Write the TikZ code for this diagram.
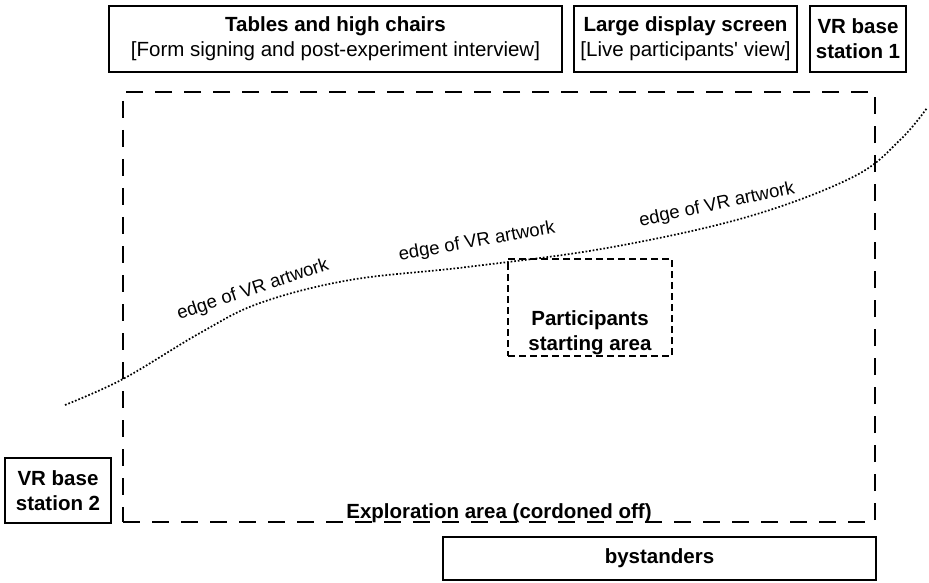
\documentclass[tikz,border=0pt]{standalone}
\usepackage{fontspec}
\setmainfont{Liberation Sans}
\usepackage{tikz}
\usetikzlibrary{positioning,calc}

\begin{document}
\begin{tikzpicture}[x=1pt,y=-1pt,
    box/.style={draw,line width=2pt,align=center,inner sep=1pt,font=\fontsize{20.5}{25}\selectfont},
    area/.style={draw,line width=2pt,dash pattern=on 17pt off 12pt},
    startbox/.style={draw,line width=1.8pt,dash pattern=on 7pt off 4pt,minimum width=164pt,minimum height=97pt},
    txt/.style={align=center,inner sep=0pt,font=\fontsize{20.5}{25}\selectfont\bfseries},
    edgelbl/.style={inner sep=0pt,font=\fontsize{18.5}{22}\selectfont},
    vredge/.style={line width=1.7pt,dash pattern=on 1.7pt off 1.9pt}]
    \useasboundingbox (0,0) rectangle (929,583);
    % rooms and furniture
    \node[box,minimum width=453pt,minimum height=66pt] (tables) at (335.5,39) {\textbf{Tables and high chairs}\\{}[Form signing and post-experiment interview]};
    \node[box,minimum width=223pt,minimum height=66pt] (screen) at (685.5,39) {\textbf{Large display screen}\\{}[Live participants\textquotesingle{} view]};
    \node[box,minimum width=96pt,minimum height=66pt] (base1) at (858,39) {\textbf{VR base}\\\textbf{station 1}};
    \node[box,minimum width=106pt,minimum height=65pt] (base2) at (58,490.5) {\textbf{VR base}\\\textbf{station 2}};
    \node[box,minimum width=433pt,minimum height=43pt] (crowd) at (659.5,558.5) {\textbf{bystanders}};
    % exploration area
    \node[area,minimum width=752pt,minimum height=430pt] (explore) at (499,307) {};
    \node[txt,anchor=south] (explorelbl) at (explore.south) {Exploration area (cordoned off)};
    \node[startbox] (start) at (590,307.5) {};
    \node[txt,anchor=south,yshift=2pt] (startlbl) at (start.south) {Participants\\starting area};
    % edge of the artwork
    \draw[vredge] plot[smooth,tension=0.6] coordinates {(65,405) (123,379) (200,333) (260,303) (350,280) (467,267) (607,248) (747,217) (853,177) (900,140) (927,108)};
    \node[edgelbl,rotate=18.4] (edge1) at (253,290) {edge of VR artwork};
    \node[edgelbl,rotate=10] (edge2) at (477,242) {edge of VR artwork};
    \node[edgelbl,rotate=12] (edge3) at (717,205) {edge of VR artwork};
\end{tikzpicture}
\end{document}
